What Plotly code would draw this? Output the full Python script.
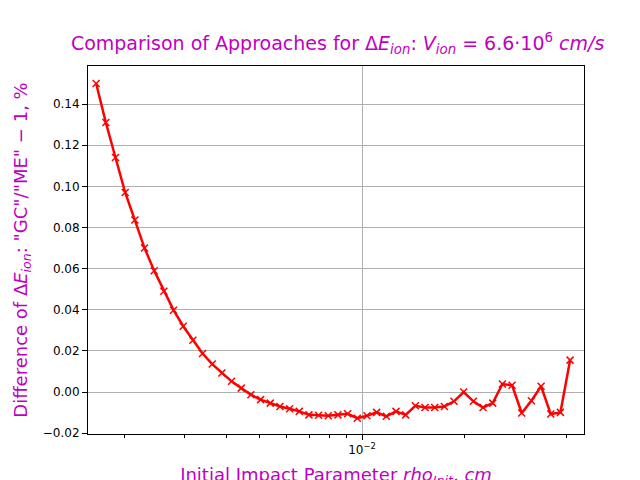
import plotly.graph_objects as go

# impact parameter, cm (1e-3 units)
rho_init = [1.652, 1.764, 1.883, 2.011, 2.147, 2.292, 2.447, 2.613, 2.790, 2.979,
            3.181, 3.396, 3.626, 3.871, 4.133, 4.413, 4.712, 5.031, 5.372, 5.735,
            6.124, 6.538, 6.981, 7.453, 7.958, 8.497, 9.072, 9.686, 10.34, 11.04,
            11.79, 12.59, 13.44, 14.35, 15.32, 16.36, 17.47, 18.65, 19.91, 21.26,
            22.70, 24.24, 25.88, 27.63, 29.50, 31.50, 33.63, 35.91, 38.34, 40.93]
rho_init = [v * 1e-3 for v in rho_init]

diff_pct = [0.150, 0.131, 0.114, 0.097, 0.0836, 0.070, 0.059, 0.049, 0.0398, 0.032,
            0.0252, 0.0187, 0.0136, 0.0093, 0.0052, 0.0019, -0.0013, -0.0037, -0.0054, -0.0070,
            -0.0081, -0.0094, -0.0111, -0.0113, -0.0115, -0.0111, -0.0106, -0.0127, -0.0115, -0.0099,
            -0.0118, -0.0094, -0.0111, -0.0067, -0.0075, -0.0075, -0.0070, -0.0045, 0.0000, -0.0045,
            -0.0075, -0.0054, 0.0039, 0.0033, -0.0102, -0.0042, 0.0028, -0.0107, -0.0099, 0.0155]

major_x = [0.01]
minor_x = [0.002, 0.003, 0.004, 0.005, 0.006, 0.007, 0.008, 0.009, 0.02, 0.03, 0.04]
y_ticks = [-0.02, 0.0, 0.02, 0.04, 0.06, 0.08, 0.10, 0.12, 0.14]

MAGENTA = "#bf00bf"

fig = go.Figure()
fig.add_scatter(
    x=rho_init, y=diff_pct, mode="lines+markers",
    line=dict(color="red", width=2.5),
    marker=dict(symbol="x-thin", size=7, color="red", line=dict(color="red", width=1.5)),
    showlegend=False,
)

fig.update_xaxes(
    type="log", range=[-2.806, -1.347], automargin=False,
    tickvals=major_x, ticktext=["10<sup>−2</sup>"],
    ticks="outside", ticklen=5, tickcolor="black",
    minor=dict(tickvals=minor_x, ticks="outside", ticklen=3, tickcolor="black", showgrid=False),
    showgrid=True, gridcolor="#b0b0b0", gridwidth=1,
    showline=True, linecolor="black", mirror=True, zeroline=False,
    title=dict(text="Initial Impact Parameter <i>rho<sub>Init</sub></i>, <i>cm</i>",
               font=dict(color=MAGENTA, size=18), standoff=14),
)
fig.update_yaxes(
    range=[-0.0204, 0.1585], tickvals=y_ticks, tickformat=".2f", automargin=False,
    ticks="outside", ticklen=5, tickcolor="black",
    showgrid=True, gridcolor="#b0b0b0", gridwidth=1,
    showline=True, linecolor="black", mirror=True, zeroline=False,
    title=dict(text="Difference of Δ<i>E<sub>ion</sub></i>: \"GC\"/\"ME\" − 1, %",
               font=dict(color=MAGENTA, size=18), standoff=10),
)
fig.update_layout(
    width=640, height=480,
    margin=dict(l=80, r=64, t=58, b=54),
    plot_bgcolor="white", paper_bgcolor="white",
    font=dict(family="DejaVu Sans", size=12, color="black"),
    title=dict(text="Comparison of Approaches for Δ<i>E<sub>ion</sub></i>: <i>V<sub>ion</sub></i> = 6.6·10<sup>6</sup> <i>cm/s</i>",
               font=dict(color=MAGENTA, size=19), x=0.515, xanchor="center", y=0.94),
)

fig.write_html("out.html")
